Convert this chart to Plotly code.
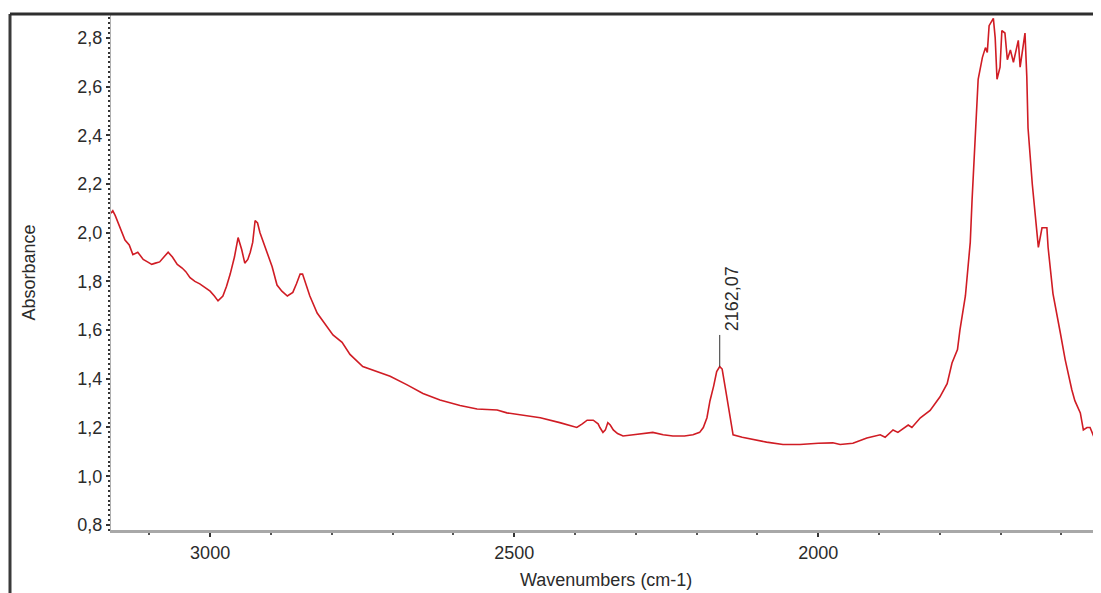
import plotly.graph_objects as go

# ---- data ----
wavenumber = [
    3163, 3160, 3156, 3148, 3140, 3133, 3127, 3119, 3110, 3103, 3096, 3090, 3083, 3076, 3069, 3062,
    3054, 3046, 3040, 3033, 3025, 3017, 3008, 3000, 2993, 2987, 2979, 2973, 2967, 2960, 2954, 2948,
    2943, 2938, 2934, 2930, 2926, 2922, 2918, 2912, 2906, 2898, 2890, 2882, 2873, 2868, 2864, 2858,
    2852, 2848, 2844, 2836, 2824, 2814, 2798, 2783, 2770, 2749, 2726, 2704, 2676, 2650, 2622, 2589,
    2561, 2528, 2512, 2485, 2457, 2425, 2397, 2388, 2380, 2370, 2362, 2359, 2354, 2350, 2346, 2342,
    2337, 2330, 2321, 2304, 2290, 2272, 2255, 2239, 2220, 2206, 2195, 2189, 2183, 2178, 2172, 2167,
    2162, 2158, 2152, 2146, 2140, 2125, 2107, 2085, 2058, 2030, 2000, 1976, 1964, 1943, 1920, 1898,
    1890, 1877, 1869, 1852, 1846, 1832, 1816, 1800, 1788, 1780, 1771, 1767, 1758, 1750, 1747, 1742,
    1737, 1730, 1725, 1722, 1719, 1712, 1709, 1706, 1701, 1698, 1693, 1689, 1684, 1679, 1671, 1668,
    1660, 1657, 1655, 1648, 1643, 1638, 1632, 1624, 1622, 1614, 1602, 1594, 1583, 1578, 1569, 1564,
    1558, 1553, 1546, 1536,
]
absorbance = [
    2.08, 2.09, 2.07, 2.02, 1.97, 1.95, 1.91, 1.92, 1.89, 1.88, 1.87, 1.875, 1.88, 1.90, 1.92, 1.90,
    1.87, 1.855, 1.84, 1.815, 1.80, 1.79, 1.775, 1.76, 1.74, 1.72, 1.74, 1.78, 1.83, 1.90, 1.98, 1.93,
    1.875, 1.89, 1.92, 1.96, 2.05, 2.04, 2.00, 1.96, 1.92, 1.86, 1.785, 1.76, 1.74, 1.75, 1.755, 1.79,
    1.83, 1.83, 1.80, 1.74, 1.67, 1.635, 1.58, 1.55, 1.50, 1.45, 1.43, 1.41, 1.375, 1.34, 1.313, 1.29,
    1.276, 1.272, 1.26, 1.25, 1.24, 1.22, 1.20, 1.215, 1.23, 1.23, 1.215, 1.20, 1.18, 1.19, 1.22, 1.21,
    1.19, 1.175, 1.165, 1.17, 1.175, 1.18, 1.17, 1.165, 1.165, 1.17, 1.18, 1.20, 1.24, 1.31, 1.37, 1.43,
    1.45, 1.44, 1.35, 1.26, 1.17, 1.16, 1.15, 1.14, 1.13, 1.13, 1.135, 1.137, 1.13, 1.135, 1.157, 1.17,
    1.16, 1.19, 1.18, 1.21, 1.20, 1.24, 1.27, 1.325, 1.38, 1.465, 1.52, 1.60, 1.74, 1.96, 2.135, 2.41,
    2.63, 2.72, 2.76, 2.74, 2.85, 2.88, 2.80, 2.63, 2.68, 2.83, 2.82, 2.71, 2.75, 2.70, 2.79, 2.68,
    2.82, 2.64, 2.43, 2.20, 2.06, 1.94, 2.02, 2.02, 1.94, 1.75, 1.59, 1.48, 1.355, 1.31, 1.26, 1.19,
    1.20, 1.20, 1.157, 1.16,
]

y_tick_values = [0.8, 1.0, 1.2, 1.4, 1.6, 1.8, 2.0, 2.2, 2.4, 2.6, 2.8]
y_tick_labels = ["0,8", "1,0", "1,2", "1,4", "1,6", "1,8", "2,0", "2,2", "2,4", "2,6", "2,8"]
x_tick_values = [3000, 2500, 2000]
x_tick_labels = ["3000", "2500", "2000"]

peak_wavenumber = 2162
peak_label = "2162,07"

x_title = "Wavenumbers (cm-1)"
y_title = "Absorbance"

# ---- figure ----
# the page body has an 8px default margin, so the figure is shrunk by 8px
OFF = 8
W, H = 1101 - OFF, 593 - OFF
ML, MR, MT, MB = 111 - OFF, 0, 15 - OFF, 63
PW, PH = W - ML - MR, H - MT - MB

FONT = "Liberation Sans, Arial, sans-serif"
TXT = "#2b2b2b"

fig = go.Figure()
fig.add_trace(go.Scatter(
    x=wavenumber, y=absorbance, mode="lines",
    line=dict(color="rgb(208,28,36)", width=1.6),
    hoverinfo="skip", showlegend=False,
))

peak_abs = absorbance[wavenumber.index(peak_wavenumber)]

# helpers: page pixel -> paper coordinate
def px_x(p):
    return (p - OFF - ML) / PW

def px_y(p):
    return (H - MB - (p - OFF)) / PH

shapes = [
    # outer frame: left and top dark borders
    dict(type="line", xref="paper", yref="paper",
         x0=px_x(10), x1=px_x(10), y0=px_y(600), y1=px_y(14),
         line=dict(color="#3a3a3a", width=3)),
    dict(type="line", xref="paper", yref="paper",
         x0=px_x(10), x1=1.0, y0=px_y(14), y1=px_y(14),
         line=dict(color="#2e2e2e", width=3)),
    # peak marker line
    dict(type="line", xref="x", yref="y",
         x0=peak_wavenumber, x1=peak_wavenumber,
         y0=peak_abs, y1=peak_abs + 0.13,
         line=dict(color="#333333", width=1)),
]

annotations = [
    dict(x=peak_wavenumber, y=peak_abs + 0.13, xref="x", yref="y",
         text=peak_label, textangle=-90, showarrow=False,
         xanchor="center", yanchor="bottom", xshift=13, yshift=2,
         font=dict(family=FONT, size=18, color=TXT)),
    dict(x=px_x(28), y=0.5, xref="paper", yref="paper",
         text=y_title, textangle=-90, showarrow=False,
         xanchor="center", yanchor="middle",
         font=dict(family=FONT, size=18, color=TXT)),
    dict(x=px_x(606), y=px_y(580), xref="paper", yref="paper",
         text=x_title, showarrow=False,
         xanchor="center", yanchor="middle",
         font=dict(family=FONT, size=18, color=TXT)),
]

fig.update_layout(
    width=W, height=H,
    margin=dict(l=ML, r=MR, t=MT, b=MB, pad=0),
    paper_bgcolor="white", plot_bgcolor="white",
    font=dict(family=FONT, size=18, color=TXT),
    shapes=shapes, annotations=annotations,
    showlegend=False,
)

fig.update_xaxes(
    range=[3163, 1535],
    showgrid=False, zeroline=False, automargin=False,
    showline=True, linecolor="#a8a8a8", linewidth=3,
    tickmode="array", tickvals=x_tick_values, ticktext=x_tick_labels,
    ticks="outside", ticklen=4, tickwidth=2, tickcolor="#333333",
    tickfont=dict(family=FONT, size=18, color=TXT),
    minor=dict(tickmode="linear", tick0=0, dtick=100, ticks="outside",
               ticklen=2, tickwidth=1.5, tickcolor="#555555", showgrid=False),
)
fig.update_yaxes(
    range=[0.779, 2.894],
    showgrid=False, zeroline=False, automargin=False,
    showline=True, linecolor="#b0b0b0", linewidth=1,
    tickmode="array", tickvals=y_tick_values, ticktext=y_tick_labels,
    ticks="outside", ticklen=4, tickwidth=1.5, tickcolor="#333333",
    tickfont=dict(family=FONT, size=18, color=TXT),
    minor=dict(tickmode="linear", tick0=0, dtick=0.02, ticks="outside",
               ticklen=2, tickwidth=1.5, tickcolor="#333333", showgrid=False),
)

fig.write_html("out.html")
